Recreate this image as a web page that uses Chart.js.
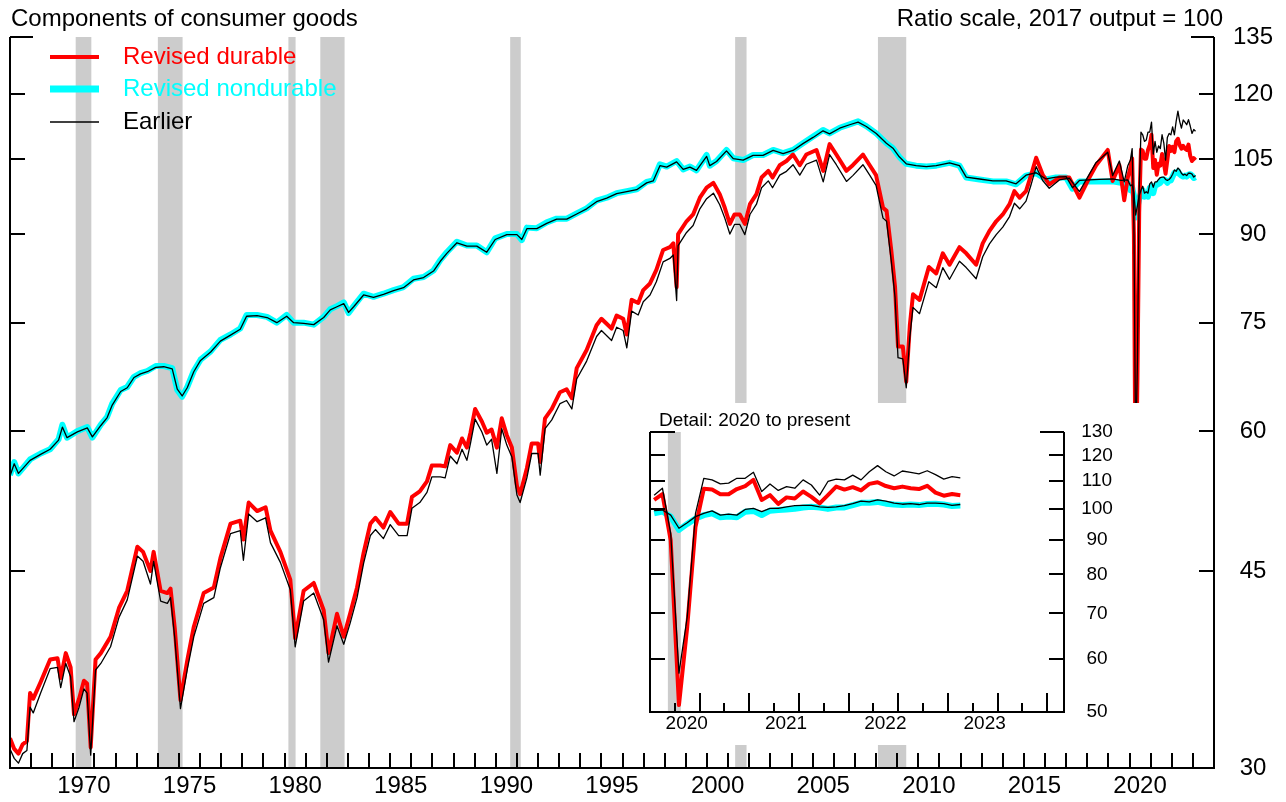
<!DOCTYPE html>
<html><head><meta charset="utf-8">
<script src="https://cdn.jsdelivr.net/npm/chart.js@4.4.1/dist/chart.umd.min.js"></script>
<style>
html,body{margin:0;padding:0;background:#fff;}
#wrap{position:relative;width:1286px;height:802px;overflow:hidden;}
#main{position:absolute;left:0;top:0;}
#inset{position:absolute;left:640px;top:403px;background:#fff;}
</style></head><body>
<div id="wrap"><canvas id="main" width="1286" height="802"></canvas><canvas id="inset" width="510" height="342"></canvas></div>
<script>
// ---------------- DATA ----------------
const durableDates = [1967.0,1967.2,1967.4,1967.6,1967.8,1967.95,1968.1,1968.45,1968.9,1969.25,
 1969.4,1969.64,1969.87,1970.03,1970.27,1970.5,1970.65,1970.82,1971.05,1971.3,
 1971.76,1972.16,1972.55,1973.03,1973.3,1973.65,1973.8,1974.13,1974.45,1974.6,
 1974.8,1975.07,1975.4,1975.7,1976.17,1976.65,1976.96,1977.44,1977.9,1978.05,
 1978.3,1978.7,1979.1,1979.33,1979.8,1980.27,1980.5,1980.9,1981.38,1981.85,
 1982.08,1982.48,1982.8,1983.1,1983.43,1983.74,1984.06,1984.3,1984.68,1985.0,
 1985.4,1985.8,1986.03,1986.4,1986.74,1986.97,1987.37,1987.6,1987.84,1988.16,
 1988.4,1988.63,1988.8,1989.02,1989.34,1989.57,1989.8,1990.05,1990.28,1990.52,
 1990.76,1991.0,1991.15,1991.47,1991.7,1992.0,1992.1,1992.33,1992.65,1993.04,
 1993.35,1993.6,1993.83,1994.3,1994.77,1995.0,1995.48,1995.72,1996.03,1996.2,
 1996.43,1996.74,1996.98,1997.3,1997.6,1997.92,1998.24,1998.4,1998.56,1998.63,
 1999.03,1999.34,1999.66,1999.98,2000.3,2000.6,2000.84,2001.08,2001.3,2001.55,
 2001.79,2002.03,2002.34,2002.58,2002.9,2003.1,2003.44,2003.76,2004.07,2004.39,
 2004.7,2005.18,2005.5,2005.8,2006.12,2006.6,2006.9,2007.38,2007.7,2008.0,
 2008.33,2008.5,2008.72,2008.9,2009.04,2009.27,2009.43,2009.6,2009.75,2010.06,
 2010.5,2010.85,2011.16,2011.48,2011.95,2012.27,2012.74,2013.05,2013.37,2013.69,
 2014.0,2014.32,2014.55,2014.8,2015.1,2015.34,2015.58,2015.9,2016.2,2016.68,
 2017.15,2017.63,2018.1,2018.42,2018.97,2019.2,2019.52,2019.75,2019.92];
const durableRevised = [31.9,31.2,30.9,31.5,31.7,35.0,34.6,35.8,37.5,37.6,
 36.1,38.0,36.9,33.5,34.6,35.9,35.7,31.3,37.5,38.0,
 39.3,41.7,43.2,47.3,46.8,45.0,46.8,43.2,43.0,43.4,
 40.0,34.5,37.5,40.1,43.0,43.5,46.2,49.6,49.9,48.0,
 51.8,50.9,51.3,48.9,46.8,44.2,39.2,43.2,43.9,41.5,
 38.0,41.2,39.3,41.2,43.5,46.7,49.6,50.2,49.2,50.8,
 49.6,49.6,52.4,53.0,54.1,55.9,55.9,55.8,58.3,57.4,
 59.1,58.0,59.8,62.8,61.2,59.8,60.2,58.0,61.6,59.5,
 58.0,53.6,52.7,55.6,58.5,58.5,56.3,61.6,62.8,65.0,
 65.4,64.2,68.3,70.9,74.6,75.6,74.1,76.1,75.6,73.2,
 78.6,78.1,80.2,81.3,83.6,87.1,87.6,88.3,80.7,90.0,
 92.4,93.7,97.0,99.0,100.0,97.7,95.0,91.9,93.7,93.7,
 91.9,95.7,97.7,101.1,102.5,101.1,103.7,104.6,106.0,103.7,
 106.0,107.0,102.5,108.3,106.0,102.5,103.7,106.0,103.7,101.6,
 95.0,94.4,87.1,80.7,71.4,71.4,66.4,74.6,79.5,78.6,
 84.1,83.0,86.5,84.5,87.6,86.5,84.5,88.3,90.6,92.4,
 93.7,95.7,98.3,97.0,98.3,101.6,105.3,101.6,99.7,101.1,
 101.1,97.0,101.1,103.7,107.0,100.4,103.7,96.5,101.1];
const durableEarlier = [31.2,30.6,30.3,30.9,31.1,34.0,33.6,35.0,36.8,36.9,
 35.4,37.2,36.2,33.0,34.0,35.3,35.0,30.8,36.7,37.2,
 38.5,40.9,42.4,46.4,45.9,43.8,45.9,42.3,42.1,42.6,
 39.2,33.9,36.8,39.3,42.1,42.6,45.3,48.6,48.9,46.0,
 50.6,49.8,50.2,47.7,45.8,43.3,38.5,42.3,43.0,40.7,
 37.3,40.2,38.7,40.4,42.6,45.7,48.4,49.0,48.1,49.5,
 48.4,48.4,51.2,51.8,52.9,54.6,54.6,54.5,57.0,56.1,
 57.8,56.5,58.5,61.5,59.9,58.3,59.0,55.0,60.3,58.3,
 56.9,52.6,51.8,54.5,57.3,57.3,54.8,60.3,61.4,63.5,
 63.9,62.8,66.8,69.3,72.9,73.8,72.3,74.3,73.8,71.2,
 76.8,76.2,78.3,79.4,81.6,85.0,85.6,86.2,78.5,87.9,
 90.3,91.6,94.8,96.8,97.9,95.6,93.0,90.0,91.8,91.8,
 89.9,93.7,95.7,99.0,100.4,99.0,101.6,102.4,103.8,101.6,
 103.9,104.8,100.2,106.0,103.8,100.3,101.5,103.8,101.6,99.5,
 93.0,92.4,85.2,79.0,69.8,69.6,65.6,72.8,77.4,76.4,
 81.6,80.6,84.0,82.0,85.1,84.0,82.1,85.9,88.2,89.9,
 91.3,93.3,95.9,94.8,96.3,99.6,103.4,100.4,98.9,100.6,
 101.0,98.2,101.8,104.3,106.5,101.5,104.6,100.2,103.6];

const nondurableDates = [1967.0,1967.2,1967.4,1967.95,1968.45,1968.9,1969.3,1969.48,1969.7,1970.19,
 1970.66,1970.9,1971.3,1971.6,1971.84,1972.24,1972.55,1972.87,1973.18,1973.5,
 1973.9,1974.28,1974.68,1974.92,1975.15,1975.39,1975.7,1976.02,1976.5,1976.96,
 1977.44,1977.9,1978.2,1978.7,1979.17,1979.63,1980.1,1980.43,1980.9,1981.38,
 1981.85,1982.16,1982.48,1982.8,1983.03,1983.27,1983.74,1984.21,1984.68,1985.16,
 1985.63,1986.1,1986.58,1987.05,1987.37,1987.68,1988.16,1988.63,1989.1,1989.57,
 1989.97,1990.52,1991.0,1991.23,1991.47,1991.94,1992.41,1992.88,1993.36,1993.83,
 1994.3,1994.77,1995.25,1995.72,1996.2,1996.67,1997.14,1997.45,1997.77,1998.09,
 1998.56,1998.87,1999.19,1999.5,1999.98,2000.13,2000.45,2000.92,2001.24,2001.71,
 2002.18,2002.65,2003.13,2003.6,2004.07,2004.54,2005.02,2005.49,2005.8,2006.28,
 2006.75,2007.15,2007.54,2008.01,2008.49,2008.8,2009.1,2009.43,2009.9,2010.38,
 2010.85,2011.48,2011.95,2012.27,2012.9,2013.53,2014.16,2014.63,2015.1,2015.58,
 2016.05,2016.52,2017.0,2017.3,2017.63,2018.1,2018.57,2019.2,2019.6,2019.92];
const nondurableRevised = [54.8,56.3,55.0,56.6,57.3,57.8,59.0,60.8,59.2,60.0,
 60.5,59.2,60.8,61.8,63.5,65.3,65.7,67.1,67.6,67.9,
 68.6,68.6,68.3,65.3,64.4,65.7,67.9,69.5,70.7,72.4,
 73.2,74.1,76.2,76.2,75.9,75.0,76.2,75.0,75.0,74.7,
 75.9,77.1,77.6,78.2,76.5,77.6,79.6,79.1,79.6,80.2,
 80.7,82.1,82.4,83.5,85.3,86.7,88.6,87.9,87.9,86.7,
 89.2,90.0,90.0,88.9,91.2,91.1,92.2,92.9,92.9,93.9,
 94.9,96.4,97.0,97.9,98.3,98.7,100.2,100.5,103.9,103.4,
 104.6,102.8,103.4,102.6,105.9,103.6,104.6,107.0,105.2,104.8,
 105.9,105.9,107.0,106.3,107.0,108.5,110.0,111.5,110.7,112.0,
 112.8,113.5,112.4,110.7,108.5,107.4,105.5,104.0,103.6,103.4,
 103.6,104.2,103.6,101.1,100.7,100.3,100.3,99.7,101.5,102.0,
 100.7,101.1,101.1,98.8,100.3,100.3,100.3,100.3,100.0,99.9];
const nondurableEarlier = [54.7,56.1,55.0,56.5,57.2,57.8,58.9,60.5,59.2,59.9,
 60.4,59.3,60.7,61.7,63.3,65.1,65.6,67.0,67.5,67.8,
 68.4,68.5,68.2,65.4,64.5,65.6,67.8,69.4,70.6,72.2,
 73.1,74.0,76.0,76.1,75.8,75.0,76.0,75.0,74.9,74.7,
 75.8,77.0,77.5,78.0,76.6,77.5,79.4,79.0,79.5,80.1,
 80.6,81.9,82.3,83.4,85.1,86.5,88.4,87.8,87.8,86.7,
 89.0,89.9,89.9,89.0,91.0,91.0,92.0,92.8,92.8,93.8,
 94.8,96.2,96.9,97.8,98.2,98.6,100.0,100.4,103.6,103.3,
 104.4,102.8,103.3,102.6,105.6,103.6,104.5,106.8,105.1,104.8,
 105.8,105.8,106.9,106.2,106.9,108.4,109.8,111.3,110.6,111.9,
 112.7,113.3,112.3,110.7,108.5,107.4,105.5,104.0,103.6,103.4,
 103.6,104.2,103.6,101.2,100.8,100.4,100.4,99.8,101.6,102.1,
 100.8,101.2,101.3,99.0,100.5,100.6,100.7,100.8,100.5,100.6];

// monthly detail, 2020 to present
const recentMonths = ['2020-01','2020-02','2020-03','2020-04','2020-05','2020-06','2020-07','2020-08','2020-09','2020-10','2020-11','2020-12',
 '2021-01','2021-02','2021-03','2021-04','2021-05','2021-06','2021-07','2021-08','2021-09','2021-10','2021-11','2021-12',
 '2022-01','2022-02','2022-03','2022-04','2022-05','2022-06','2022-07','2022-08','2022-09','2022-10','2022-11','2022-12',
 '2023-01','2023-02'];
const recentDurableRevised = [103.1,105.2,89.9,51.2,66.9,94.1,107.1,106.8,105.1,105.1,107.0,108.1,
 110.4,103.1,104.8,101.7,104.0,103.6,106.1,104.2,101.9,104.8,107.9,106.8,
 107.7,106.5,108.9,109.5,108.1,107.3,107.9,107.3,107.0,108.2,105.7,104.6,
 105.2,104.8];
const recentDurableEarlier = [104.8,107.3,92.0,57.1,69.2,98.5,111.0,110.4,108.9,109.2,111.0,111.0,
 113.3,106.1,108.9,106.5,107.9,107.3,110.4,108.5,104.8,109.8,110.7,110.4,
 112.2,110.4,113.5,115.9,113.5,111.9,113.8,113.3,112.7,113.9,112.4,110.7,
 111.6,111.2];
const recentNondurableRevised = [98.5,99.1,97.4,93.1,95.0,96.8,97.9,98.5,97.2,97.4,97.2,99.0,
 99.3,97.9,99.4,99.6,99.8,100.0,100.5,100.7,100.5,100.0,100.5,100.5,
 101.3,102.1,102.1,102.4,101.8,101.5,101.3,101.5,101.3,101.7,101.8,101.5,
 101.0,101.2];
const recentNondurableEarlier = [99.4,99.6,97.9,93.6,95.4,97.4,98.5,99.3,97.9,98.2,97.9,99.8,
 100.2,99.1,100.2,100.2,100.7,101.1,101.2,101.2,100.7,100.5,100.7,101.1,
 101.8,102.7,102.4,103.1,102.7,102.0,101.6,101.8,101.5,102.0,102.0,101.8,
 101.2,101.5];

// recessions (decimal years) — main chart, and the one shown in the detail panel
const recessionStarts = [1970.11, 1974.0, 1980.18, 1981.69, 1990.68, 2001.33, 2008.09];
const recessionEnds   = [1970.85, 1975.17, 1980.52, 1982.84, 1991.18, 2001.87, 2009.43];
const insetRecessionStarts = [2020.18];
const insetRecessionEnds   = [2020.31];

// ticks / labels
const mainYTicks = [30, 45, 60, 75, 90, 105, 120, 135];
const mainXLabels = ['1970','1975','1980','1985','1990','1995','2000','2005','2010','2015','2020'];
const mainXTickYears = [1968,1969,1970,1971,1972,1973,1974,1975,1976,1977,1978,1979,1980,1981,1982,1983,1984,1985,1986,1987,1988,1989,1990,1991,1992,1993,1994,1995,1996,1997,1998,1999,2000,2001,2002,2003,2004,2005,2006,2007,2008,2009,2010,2011,2012,2013,2014,2015,2016,2017,2018,2019,2020,2021,2022,2023];
const insetYTicks = [50, 60, 70, 80, 90, 100, 110, 120, 130];
const insetXLabels = ['2020','2021','2022','2023'];
const insetMajorTicks = [2020.5, 2021, 2021.5, 2022, 2022.5, 2023, 2023.5, 2024];
const insetMinorTicks = [2020.25, 2020.75, 2021.25, 2021.75, 2022.25, 2022.75, 2023.25, 2023.75];

const legendItems = [
  {text: 'Revised durable', color: '#ff0000', width: 4},
  {text: 'Revised nondurable', color: '#00ffff', width: 7},
  {text: 'Earlier', color: '#000000', width: 1.3}
];

// ---------------- HELPERS ----------------
const FONT = '"Liberation Sans", Arial, Helvetica, sans-serif';
function monthToYear(s){ const [y,m] = s.split('-').map(Number); return y + (m - 0.5) / 12; }
const recentX = recentMonths.map(monthToYear);
function pts(xs, ys){ return xs.map((x, i) => ({x: x, y: ys[i]})); }

function lineDS(label, data, color, width, order){
  return {label, data, borderColor: color, backgroundColor: color, borderWidth: width,
          pointRadius: 0, tension: 0, fill: false, order, borderJoinStyle: 'round', borderCapStyle: 'butt'};
}

function drawRecessions(chart, starts, ends){
  const {ctx, chartArea: a, scales: {x}} = chart;
  ctx.save();
  ctx.fillStyle = '#cccccc';
  for (let i = 0; i < starts.length; i++) {
    let x0 = Math.max(a.left, x.getPixelForValue(starts[i]));
    let x1 = Math.min(a.right, x.getPixelForValue(ends[i]));
    if (x1 > x0) ctx.fillRect(x0, a.top, x1 - x0, a.bottom - a.top);
  }
  ctx.restore();
}

// ---------------- MAIN CHART ----------------
const mainDecor = {
  id: 'mainDecor',
  beforeDatasetsDraw(chart){ drawRecessions(chart, recessionStarts, recessionEnds); },
  afterDatasetsDraw(chart){
    const {ctx, chartArea: a, scales: {x, y}} = chart;
    ctx.save();
    ctx.strokeStyle = '#000'; ctx.lineWidth = 2; ctx.lineCap = 'butt';
    ctx.beginPath();
    ctx.moveTo(a.left, a.top); ctx.lineTo(a.left, a.bottom); ctx.lineTo(a.right, a.bottom); ctx.lineTo(a.right, a.top);
    ctx.stroke();
    mainYTicks.forEach((v, i) => {
      const py = Math.round(y.getPixelForValue(v));
      const len = (i === mainYTicks.length - 1) ? 23 : 15;
      ctx.beginPath();
      ctx.moveTo(a.left, py); ctx.lineTo(a.left + len, py);
      ctx.moveTo(a.right, py); ctx.lineTo(a.right - len, py);
      ctx.stroke();
    });
    mainXTickYears.forEach(yr => {
      const px = Math.round(x.getPixelForValue(yr));
      ctx.beginPath(); ctx.moveTo(px, a.bottom); ctx.lineTo(px, a.bottom - 15); ctx.stroke();
    });
    ctx.fillStyle = '#000';
    ctx.font = '24px ' + FONT;
    ctx.textBaseline = 'middle';
    ctx.textAlign = 'center';
    mainYTicks.forEach(v => ctx.fillText(String(v), 1253, y.getPixelForValue(v)));
    mainXLabels.forEach(l => ctx.fillText(l, x.getPixelForValue(Number(l) + 0.5), 786));
    ctx.textAlign = 'left';
    ctx.fillText('Components of consumer goods', 11, 19);
    ctx.textAlign = 'right';
    ctx.fillText('Ratio scale, 2017 output = 100', 1223, 19);
    ctx.textAlign = 'left';
    const rows = [57, 89, 122];
    legendItems.forEach((it, i) => {
      ctx.strokeStyle = it.color; ctx.lineWidth = it.width;
      ctx.beginPath(); ctx.moveTo(50, rows[i]); ctx.lineTo(99, rows[i]); ctx.stroke();
      ctx.fillStyle = it.color;
      ctx.fillText(it.text, 123, rows[i]);
    });
    ctx.restore();
  }
};

const mainDurRev = pts(durableDates, durableRevised).concat(pts(recentX, recentDurableRevised));
const mainDurEar = pts(durableDates, durableEarlier).concat(pts(recentX, recentDurableEarlier));
const mainNonRev = pts(nondurableDates, nondurableRevised).concat(pts(recentX, recentNondurableRevised));
const mainNonEar = pts(nondurableDates, nondurableEarlier).concat(pts(recentX, recentNondurableEarlier));

new Chart(document.getElementById('main'), {
  type: 'line',
  data: { datasets: [
    lineDS('Earlier durable', mainDurEar, '#000000', 1.3, 0),
    lineDS('Earlier nondurable', mainNonEar, '#000000', 1.3, 0),
    lineDS('Revised durable', mainDurRev, '#ff0000', 4, 1),
    lineDS('Revised nondurable', mainNonRev, '#00ffff', 6, 2)
  ]},
  options: {
    responsive: false, animation: false, devicePixelRatio: 1,
    layout: { padding: { left: 10, top: 37, right: 72, bottom: 34 } },
    scales: {
      x: { type: 'linear', min: 1967, max: 2024, display: false },
      y: { type: 'logarithmic', min: 30, max: 135, display: false }
    },
    plugins: { legend: { display: false }, tooltip: { enabled: false }, title: { display: false } },
    events: []
  },
  plugins: [mainDecor]
});

// ---------------- INSET CHART ----------------
const insetDecor = {
  id: 'insetDecor',
  beforeDraw(chart){
    const {ctx, width, height} = chart;
    ctx.save(); ctx.fillStyle = '#fff'; ctx.fillRect(0, 0, width, height); ctx.restore();
  },
  beforeDatasetsDraw(chart){ drawRecessions(chart, insetRecessionStarts, insetRecessionEnds); },
  afterDatasetsDraw(chart){
    const {ctx, chartArea: a, scales: {x, y}} = chart;
    ctx.save();
    ctx.strokeStyle = '#000'; ctx.lineWidth = 2;
    ctx.beginPath();
    ctx.moveTo(a.left, a.top); ctx.lineTo(a.left, a.bottom); ctx.lineTo(a.right, a.bottom); ctx.lineTo(a.right, a.top);
    ctx.stroke();
    insetYTicks.forEach((v, i) => {
      const py = Math.round(y.getPixelForValue(v));
      const last = i === insetYTicks.length - 1;
      ctx.beginPath();
      ctx.moveTo(a.left, py); ctx.lineTo(a.left + (last ? 25 : 15), py);
      ctx.moveTo(a.right, py); ctx.lineTo(a.right - (last ? 24 : 15), py);
      ctx.stroke();
    });
    insetMajorTicks.forEach(v => {
      const px = Math.round(x.getPixelForValue(v));
      ctx.beginPath(); ctx.moveTo(px, a.bottom); ctx.lineTo(px, a.bottom - 19); ctx.stroke();
    });
    insetMinorTicks.forEach(v => {
      const px = Math.round(x.getPixelForValue(v));
      ctx.beginPath(); ctx.moveTo(px, a.bottom); ctx.lineTo(px, a.bottom - 9); ctx.stroke();
    });
    ctx.fillStyle = '#000';
    ctx.font = '19px ' + FONT;
    ctx.textBaseline = 'middle';
    ctx.textAlign = 'center';
    insetYTicks.forEach(v => ctx.fillText(String(v), 457, y.getPixelForValue(v)));
    insetXLabels.forEach(l => ctx.fillText(l, x.getPixelForValue(Number(l) + 0.37), 321));
    ctx.textAlign = 'left';
    ctx.fillText('Detail: 2020 to present', 19, 18);
    ctx.restore();
  }
};

new Chart(document.getElementById('inset'), {
  type: 'line',
  data: { datasets: [
    lineDS('Earlier durable', pts(recentX, recentDurableEarlier), '#000000', 1.3, 0),
    lineDS('Earlier nondurable', pts(recentX, recentNondurableEarlier), '#000000', 1.3, 0),
    lineDS('Revised durable', pts(recentX, recentDurableRevised), '#ff0000', 4, 1),
    lineDS('Revised nondurable', pts(recentX, recentNondurableRevised), '#00ffff', 6, 2)
  ]},
  options: {
    responsive: false, animation: false, devicePixelRatio: 1,
    layout: { padding: { left: 10, top: 29, right: 86, bottom: 33 } },
    scales: {
      x: { type: 'linear', min: 2020.0, max: 2024.169, display: false },
      y: { type: 'logarithmic', min: 50, max: 130, display: false }
    },
    plugins: { legend: { display: false }, tooltip: { enabled: false }, title: { display: false } },
    events: []
  },
  plugins: [insetDecor]
});
</script>
</body></html>
